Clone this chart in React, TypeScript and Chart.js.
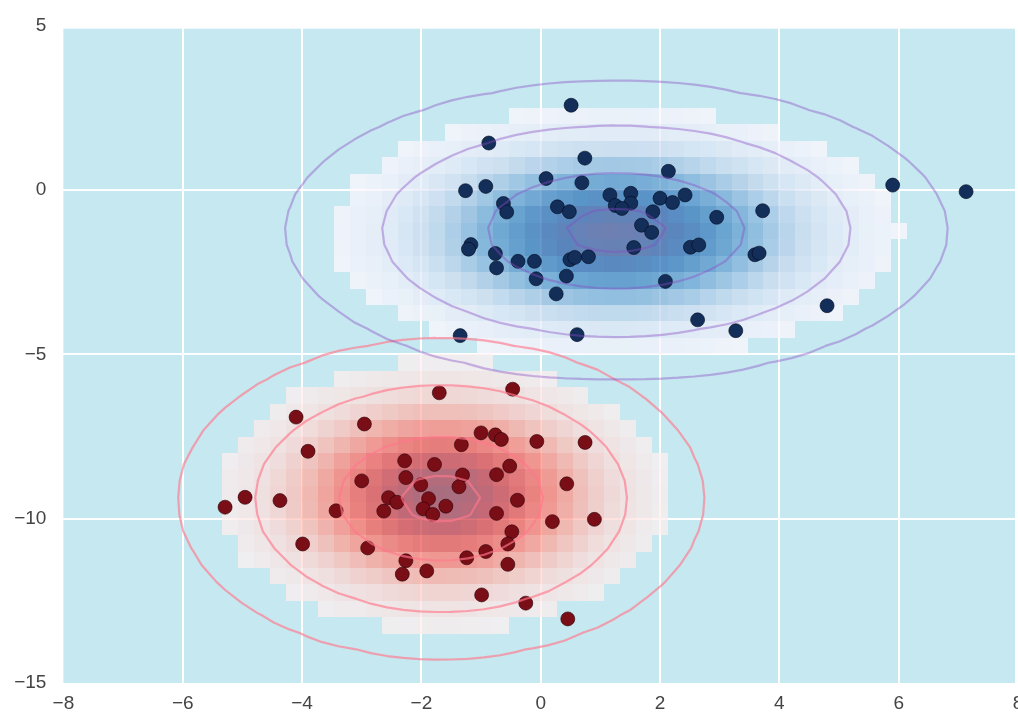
import React, { useEffect, useRef } from 'react';
import { Chart, registerables } from 'chart.js';

Chart.register(...registerables);

// ---- axis ticks ----
const X_TICKS = [-8, -6, -4, -2, 0, 2, 4, 6, 8];
const X_TICK_LABELS = ['\u22128', '\u22126', '\u22124', '\u22122', '0', '2', '4', '6', '8'];
const Y_TICKS = [-15, -10, -5, 0, 5];
const Y_TICK_LABELS = ['\u221215', '\u221210', '\u22125', '0', '5'];

// ---- class 1 (blue) points ----
const BLUE_X = [0.51, -0.87, 0.74, 2.14, 0.09, 0.69, -1.26, -0.92, -0.625, -0.57, 0.28, 0.48, 1.16, 1.51, 1.51, 1.25, 1.36, 2.0, 2.21, 2.42, 1.88, 1.69, 1.86, -1.17, -1.21, -0.76, -0.74, -0.38, -0.105, -0.077, 0.49, 0.57, 0.8, 0.43, 0.26, 1.56, 2.09, 2.95, 3.72, 2.51, 2.65, 3.59, 3.66, 2.63, 3.27, 4.8, 5.9, 7.13, -1.35, 0.61];
const BLUE_Y = [2.58, 1.43, 0.97, 0.57, 0.35, 0.22, -0.02, 0.11, -0.41, -0.67, -0.51, -0.66, -0.15, -0.1, -0.4, -0.47, -0.56, -0.25, -0.38, -0.15, -0.66, -1.07, -1.29, -1.66, -1.8, -1.93, -2.37, -2.17, -2.17, -2.7, -2.12, -2.05, -2.03, -2.62, -3.16, -1.75, -2.78, -0.83, -0.63, -1.74, -1.67, -1.97, -1.92, -3.95, -4.28, -3.52, 0.15, -0.05, -4.43, -4.4];

// ---- class 0 (red) points ----
const RED_X = [-1.7, -4.1, -2.955, -3.9, -1.0, -0.76, -0.66, -1.33, -2.28, -1.78, -2.26, -1.31, -3.0, -2.01, -1.37, -0.74, -2.55, -2.41, -2.63, -1.88, -1.97, -1.81, -1.59, -4.955, -5.29, -4.37, -3.43, -0.74, -3.99, -2.9, -2.26, -2.32, -1.91, -1.24, -0.92, -0.99, -0.47, -0.065, 0.744, -0.52, 0.437, -0.39, 0.196, 0.9, -0.484, -0.551, -0.551, -0.25, 0.454];
const RED_Y = [-6.17, -6.91, -7.12, -7.95, -7.39, -7.45, -7.59, -7.75, -8.24, -8.35, -8.75, -8.67, -8.85, -8.97, -9.03, -8.66, -9.36, -9.5, -9.77, -9.39, -9.7, -9.87, -9.62, -9.35, -9.65, -9.45, -9.76, -9.84, -10.77, -10.89, -11.28, -11.69, -11.59, -11.19, -11.0, -12.32, -6.06, -7.65, -7.68, -8.4, -8.94, -9.44, -10.09, -10.02, -10.4, -10.77, -11.39, -12.57, -13.05];

// ---- model settings ----
const CONTOUR_LEVELS = [0.01, 0.1, 0.5, 0.9];
const MASK_LEVEL = 0.03;
const GRID_NX = 60;
const GRID_NY = 40;
const X_RANGE = [-8, 8];
const Y_RANGE = [-15, 5];

// ---- colours ----
const BG = [198, 232, 240];
const HEAT_ALPHA = 0.72;
const HEAT_GAMMA = 0.85;
const BLUE_RAMP = [
  [240, 243, 250], [222, 234, 246], [200, 221, 239], [168, 203, 230], [135, 184, 220],
  [108, 165, 210], [90, 148, 200], [90, 133, 188], [110, 128, 178],
];
const RED_RAMP = [
  [247, 238, 240], [247, 222, 222], [246, 200, 196], [244, 175, 168], [240, 150, 145],
  [232, 128, 126], [218, 112, 116], [195, 105, 118], [168, 110, 128],
];
const BLUE_POINT = '#142e5a';
const RED_POINT = '#7a0e17';
const BLUE_CONTOUR = 'rgba(135,75,195,0.4)';
const RED_CONTOUR = 'rgba(255,120,140,0.65)';

function ramp(stops: number[][], t: number) {
  const n = stops.length - 1;
  const f = Math.max(0, Math.min(1, t)) * n;
  const k = Math.min(Math.floor(f), n - 1);
  const r = f - k;
  return [0, 1, 2].map((c) => stops[k][c] + (stops[k + 1][c] - stops[k][c]) * r);
}
function heatColor(stops: number[][], t: number) {
  const target = ramp(stops, Math.pow(Math.max(0, t), HEAT_GAMMA));
  const out = [0, 1, 2].map((k) => {
    const v = (target[k] - (1 - HEAT_ALPHA) * BG[k]) / HEAT_ALPHA;
    return Math.round(Math.max(0, Math.min(255, v)));
  });
  return `rgba(${out[0]},${out[1]},${out[2]},${HEAT_ALPHA})`;
}

function stats(v: number[]) {
  const m = v.reduce((s, a) => s + a, 0) / v.length;
  const sd = Math.sqrt(v.reduce((s, a) => s + (a - m) * (a - m), 0) / v.length);
  return [m, sd];
}

const XG = Array.from({ length: GRID_NX }, (_, i) => X_RANGE[0] + ((X_RANGE[1] - X_RANGE[0]) * i) / (GRID_NX - 1));
const YG = Array.from({ length: GRID_NY }, (_, j) => Y_RANGE[0] + ((Y_RANGE[1] - Y_RANGE[0]) * j) / (GRID_NY - 1));

function densityGrid(xs: number[], ys: number[]) {
  const [mx, sx] = stats(xs);
  const [my, sy] = stats(ys);
  return YG.map((yv) =>
    XG.map((xv) => Math.exp(-0.5 * ((xv - mx) / sx) ** 2) * Math.exp(-0.5 * ((yv - my) / sy) ** 2))
  );
}

const CLASSES = [
  { xs: RED_X, ys: RED_Y, stops: RED_RAMP, contour: RED_CONTOUR },
  { xs: BLUE_X, ys: BLUE_Y, stops: BLUE_RAMP, contour: BLUE_CONTOUR },
];

function contourSegments(P: number[][], level: number) {
  const segs: number[][] = [];
  for (let j = 0; j < GRID_NY - 1; j++) {
    for (let i = 0; i < GRID_NX - 1; i++) {
      const c = [
        [XG[i], YG[j], P[j][i]],
        [XG[i + 1], YG[j], P[j][i + 1]],
        [XG[i + 1], YG[j + 1], P[j + 1][i + 1]],
        [XG[i], YG[j + 1], P[j + 1][i]],
      ];
      const pts: number[][] = [];
      for (let e = 0; e < 4; e++) {
        const a = c[e];
        const b = c[(e + 1) % 4];
        if ((a[2] >= level) !== (b[2] >= level)) {
          const t = (level - a[2]) / (b[2] - a[2]);
          pts.push([a[0] + (b[0] - a[0]) * t, a[1] + (b[1] - a[1]) * t]);
        }
      }
      if (pts.length === 2) segs.push([pts[0][0], pts[0][1], pts[1][0], pts[1][1]]);
      else if (pts.length === 4) {
        segs.push([pts[0][0], pts[0][1], pts[1][0], pts[1][1]]);
        segs.push([pts[2][0], pts[2][1], pts[3][0], pts[3][1]]);
      }
    }
  }
  return segs;
}

const bgPlugin = {
  id: 'bgPlugin',
  beforeDraw(chart: any) {
    const { ctx, chartArea } = chart;
    ctx.save();
    ctx.fillStyle = `rgb(${BG[0]},${BG[1]},${BG[2]})`;
    ctx.fillRect(chartArea.left, chartArea.top + 3, chartArea.right - chartArea.left - 3, chartArea.bottom - chartArea.top - 3);
    ctx.restore();
  },
};

const heatPlugin = {
  id: 'heatPlugin',
  beforeDatasetsDraw(chart: any) {
    const { ctx, chartArea } = chart;
    const xs = chart.scales.x;
    const ys = chart.scales.y;
    const cw = (X_RANGE[1] - X_RANGE[0]) / GRID_NX;
    const ch = (Y_RANGE[1] - Y_RANGE[0]) / GRID_NY;
    ctx.save();
    ctx.beginPath();
    ctx.rect(chartArea.left, chartArea.top, chartArea.right - chartArea.left, chartArea.bottom - chartArea.top);
    ctx.clip();
    for (const cls of CLASSES) {
      const P = densityGrid(cls.xs, cls.ys);
      let lo = Infinity;
      let hi = -Infinity;
      P.forEach((row) => row.forEach((v) => { if (v >= MASK_LEVEL) { lo = Math.min(lo, v); hi = Math.max(hi, v); } }));
      for (let j = 0; j < GRID_NY; j++) {
        for (let i = 0; i < GRID_NX; i++) {
          const v = P[j][i];
          if (v < MASK_LEVEL) continue;
          const x0 = Math.round(xs.getPixelForValue(X_RANGE[0] + i * cw));
          const x1 = Math.round(xs.getPixelForValue(X_RANGE[0] + (i + 1) * cw));
          const y0 = Math.round(ys.getPixelForValue(Y_RANGE[0] + (j + 1) * ch));
          const y1 = Math.round(ys.getPixelForValue(Y_RANGE[0] + j * ch));
          ctx.fillStyle = heatColor(cls.stops, (v - lo) / (hi - lo));
          ctx.fillRect(x0, y0, x1 - x0, y1 - y0);
        }
      }
    }
    ctx.restore();
  },
};

const contourPlugin = {
  id: 'contourPlugin',
  afterDatasetsDraw(chart: any) {
    const { ctx, chartArea } = chart;
    const xs = chart.scales.x;
    const ys = chart.scales.y;
    ctx.save();
    ctx.beginPath();
    ctx.rect(chartArea.left, chartArea.top, chartArea.right - chartArea.left, chartArea.bottom - chartArea.top);
    ctx.clip();
    for (const cls of CLASSES) {
      const P = densityGrid(cls.xs, cls.ys);
      for (const level of CONTOUR_LEVELS) {
        const segs = contourSegments(P, level);
        ctx.beginPath();
        for (const s of segs) {
          ctx.moveTo(xs.getPixelForValue(s[0]), ys.getPixelForValue(s[1]));
          ctx.lineTo(xs.getPixelForValue(s[2]), ys.getPixelForValue(s[3]));
        }
        ctx.strokeStyle = cls.contour;
        ctx.lineWidth = 2.2;
        ctx.lineCap = 'round';
        ctx.lineJoin = 'round';
        ctx.stroke();
      }
    }
    ctx.restore();
  },
};

const FONT = { family: "'Liberation Sans', Arial, sans-serif", size: 19 };
const TICK_COLOR = '#444444';

export default function App() {
  const ref = useRef<HTMLCanvasElement | null>(null);
  useEffect(() => {
    if (!ref.current) return;
    const chart = new Chart(ref.current, {
      type: 'scatter',
      data: {
        datasets: [
          {
            data: RED_X.map((x, i) => ({ x, y: RED_Y[i] })),
            backgroundColor: RED_POINT,
            borderColor: 'rgba(40,0,5,0.6)',
            borderWidth: 1,
            pointRadius: 7,
            pointHoverRadius: 7,
          },
          {
            data: BLUE_X.map((x, i) => ({ x, y: BLUE_Y[i] })),
            backgroundColor: BLUE_POINT,
            borderColor: 'rgba(0,10,30,0.6)',
            borderWidth: 1,
            pointRadius: 7,
            pointHoverRadius: 7,
          },
        ],
      },
      options: {
        animation: false,
        responsive: false,
        events: [],
        layout: { autoPadding: false, padding: { top: 25.7, right: 0, left: 0, bottom: 0 } },
        plugins: { legend: { display: false }, tooltip: { enabled: false } },
        scales: {
          x: {
            type: 'linear',
            min: X_RANGE[0],
            max: X_RANGE[1],
            afterBuildTicks: (s: any) => { s.ticks = X_TICKS.map((value) => ({ value })); },
            afterFit: (s: any) => { s.height = 30; s.paddingLeft = 0; s.paddingRight = 0; },
            grid: {
              color: (c: any) => (c.tick && (c.tick.value === X_RANGE[0] || c.tick.value === X_RANGE[1]) ? 'rgba(0,0,0,0)' : '#ffffff'),
              lineWidth: 2,
              drawTicks: false,
            },
            border: { display: false },
            ticks: {
              autoSkip: false,
              maxRotation: 0,
              padding: 9,
              color: TICK_COLOR,
              font: FONT,
              callback: (v: any) => X_TICK_LABELS[X_TICKS.indexOf(Number(v))] ?? '',
            },
          },
          y: {
            type: 'linear',
            min: Y_RANGE[0],
            max: Y_RANGE[1],
            afterBuildTicks: (s: any) => { s.ticks = Y_TICKS.map((value) => ({ value })); },
            afterFit: (s: any) => { s.width = 63.4; s.paddingTop = 0; s.paddingBottom = 0; },
            grid: {
              color: (c: any) => (c.tick && (c.tick.value === Y_RANGE[0] || c.tick.value === Y_RANGE[1]) ? 'rgba(0,0,0,0)' : '#ffffff'),
              lineWidth: 2,
              drawTicks: false,
            },
            border: { display: false },
            ticks: {
              padding: 17,
              color: TICK_COLOR,
              font: FONT,
              callback: (v: any) => Y_TICK_LABELS[Y_TICKS.indexOf(Number(v))] ?? '',
            },
          },
        },
      },
      plugins: [bgPlugin, heatPlugin, contourPlugin],
    });
    return () => chart.destroy();
  }, []);
  return (
    <div style={{ position: 'fixed', left: 0, top: 0, width: 1018, height: 713, background: '#ffffff', overflow: 'hidden' }}>
      <canvas ref={ref} width={1018} height={713} style={{ display: 'block' }} />
    </div>
  );
}
